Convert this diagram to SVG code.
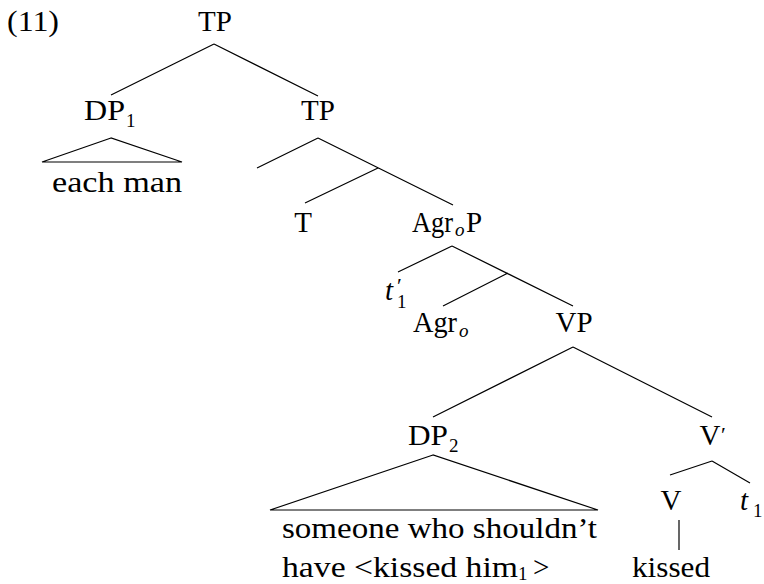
<svg xmlns="http://www.w3.org/2000/svg" width="764" height="584" viewBox="0 0 764 584">
<style>
text{font-family:"Liberation Serif","Times New Roman",serif;font-size:29px;fill:#000}
.sub{font-size:19px}
.it{font-style:italic}
.pr{font-size:22px}
.m{text-anchor:middle}
.ln{stroke:#000;stroke-width:1.2;fill:none}
</style>
<rect width="764" height="584" fill="#fff"/>
<g id="connectors" class="ln">
<path d="M214,44 L111,95 M214,44 L318,96"/>
<path d="M111,138 L42,162 L182,162 Z"/>
<path d="M318,138 L257,168 M318,138 L453,205 M378,168 L305,203"/>
<path d="M452,246 L398,272 M452,246 L573,306 M508,273 L443,306"/>
<path d="M573,347 L433,417 M573,347 L712,417"/>
<path d="M433,455 L270,510 L598,510 Z"/>
<path d="M712,461 L670,475 M712,461 L750,483"/>
<path d="M679,520 L679,550"/>
</g>
<g id="label11"><text x="7" y="31" textLength="52" lengthAdjust="spacingAndGlyphs">(11)</text></g>
<g id="TP-root"><text class="m" x="215" y="31">TP</text></g>
<g id="DP1"><text x="84" y="120" textLength="41" lengthAdjust="spacingAndGlyphs">DP</text><text class="sub" x="126" y="127">1</text></g>
<g id="each-man"><text x="52" y="192" textLength="130" lengthAdjust="spacingAndGlyphs">each man</text></g>
<g id="TP2"><text class="m" x="318" y="120">TP</text></g>
<g id="T"><text class="m" x="303" y="232">T</text></g>
<g id="AgroP"><text x="412" y="232" textLength="41" lengthAdjust="spacingAndGlyphs">Agr</text><text class="sub it" x="455" y="236">o</text><text x="466" y="232">P</text></g>
<g id="t1prime"><text class="it" x="385" y="300">t</text><text class="pr" x="397" y="293">′</text><text class="sub" x="397" y="308">1</text></g>
<g id="Agro"><text x="413" y="332" textLength="44" lengthAdjust="spacingAndGlyphs">Agr</text><text class="sub it" x="459" y="337">o</text></g>
<g id="VP"><text class="m" x="574" y="332">VP</text></g>
<g id="DP2"><text x="408" y="445" textLength="40" lengthAdjust="spacingAndGlyphs">DP</text><text class="sub" x="449" y="452">2</text></g>
<g id="Vbar"><text class="m" x="710" y="445">V</text><text class="pr" x="721" y="442">′</text></g>
<g id="DP2-text"><text x="282" y="538" textLength="315" lengthAdjust="spacingAndGlyphs">someone who shouldn’t</text><text x="282" y="577" textLength="236" lengthAdjust="spacingAndGlyphs">have &lt;kissed him</text><text class="sub" x="518" y="580">1</text><text x="533" y="577">&gt;</text></g>
<g id="V"><text class="m" x="671" y="510">V</text></g>
<g id="t1"><text class="it" x="740" y="510">t</text><text class="sub" x="753" y="517">1</text></g>
<g id="kissed"><text x="632" y="577" textLength="78" lengthAdjust="spacingAndGlyphs">kissed</text></g>
</svg>
